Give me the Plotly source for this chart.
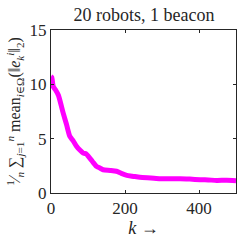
import plotly.graph_objects as go

k_vals = [0, 2, 6, 12, 20, 33, 42, 51, 60, 69, 78, 87, 95, 101, 112, 123, 132, 141, 160, 177, 190, 205, 220, 240, 270, 295, 320, 349, 375, 403, 425, 448, 475, 500]
err_vals = [10.7, 10.65, 9.8, 9.5, 9.0, 7.35, 6.3, 5.2, 4.8, 4.3, 3.95, 3.67, 3.6, 3.37, 2.9, 2.45, 2.3, 2.14, 2.08, 2.0, 1.8, 1.62, 1.55, 1.44, 1.38, 1.32, 1.3, 1.32, 1.28, 1.22, 1.2, 1.16, 1.17, 1.13]

title_text = "20 robots, 1 beacon"
x_label = "<i>k</i> →"
y_label = "<sup>1</sup>⁄<sub><i>n</i></sub> ∑<sub><i>j</i>=1</sub><sup><i>n</i></sup> mean<sub><i>i</i>∈Ω</sub>(‖<i>e</i><sub><i>k</i></sub><sup><i>i</i></sup>‖<sub>2</sub>)"

font_family = "Liberation Serif, 'DejaVu Serif', serif"
ink = "#262626"

fig = go.Figure()
fig.add_trace(go.Scatter(x=k_vals, y=err_vals, mode="lines",
                         line=dict(color="#FF00FF", width=5, shape="spline", smoothing=0.6),
                         showlegend=False))

axis_common = dict(showgrid=False, zeroline=False, showline=True, linecolor=ink,
                   linewidth=1, mirror="ticks", ticks="inside", ticklen=3, tickcolor=ink,
                   automargin=False,
                   tickfont=dict(family=font_family, size=17, color=ink))

fig.update_layout(
    width=242, height=243,
    margin=dict(l=51, r=6, t=30, b=50),
    paper_bgcolor="white", plot_bgcolor="white",
    title=dict(text=title_text, x=0.595, xanchor="center", y=0.938, yanchor="middle",
               font=dict(family=font_family, size=18, color=ink)),
    xaxis=dict(range=[0, 500], tickvals=[0, 200, 400], title=dict(text=x_label, standoff=3,
               font=dict(family=font_family, size=18, color=ink)), **axis_common),
    yaxis=dict(range=[0, 15], tickvals=[0, 5, 10, 15], title=dict(text=y_label, standoff=4,
               font=dict(family=font_family, size=16, color=ink)), **axis_common),
)

fig.write_html("out.html", config={"displayModeBar": False},
               post_script="document.body.style.margin='0';document.body.style.overflow='hidden';")
